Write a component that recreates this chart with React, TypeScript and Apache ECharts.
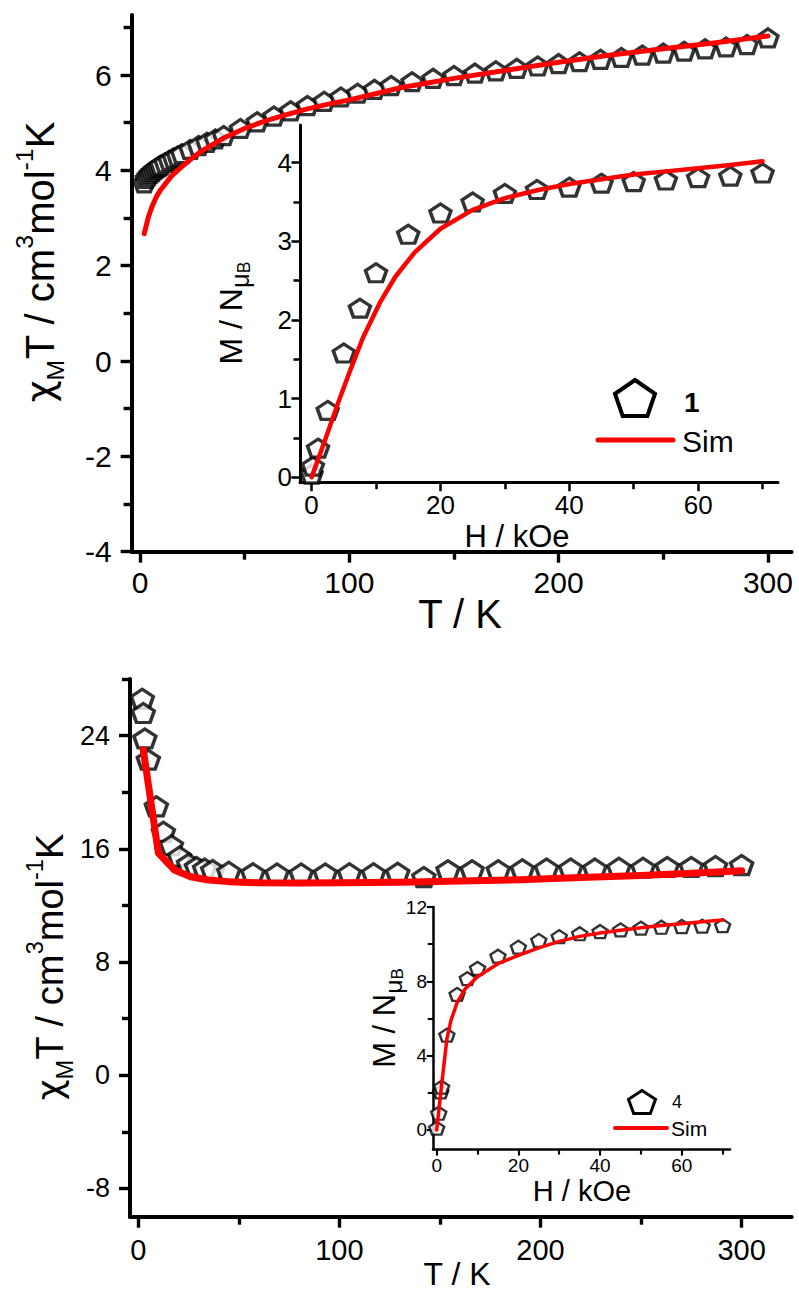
import React, { useEffect, useRef } from "react";
import * as echarts from "echarts";

const W = 799;
const H = 1292;
const FONT = "'Liberation Sans', Arial, Helvetica, sans-serif";
const GREEK = "'DejaVu Sans', 'Liberation Sans', sans-serif";

// ---------------- Top panel (compound 1): chi_M T vs T ----------------
const topT = [2, 3, 4, 5, 6, 7, 8, 9, 10, 12, 14, 16, 18, 20, 24, 28, 32, 36, 40, 48, 56, 64, 72, 80, 88, 96, 104, 112, 120, 130, 140, 150, 160, 170, 180, 190, 200, 210, 220, 230, 240, 250, 260, 270, 280, 290, 300];
const topChiT = [3.74, 3.83, 3.89, 3.94, 3.98, 4.02, 4.05, 4.08, 4.11, 4.16, 4.21, 4.26, 4.3, 4.35, 4.44, 4.52, 4.59, 4.66, 4.73, 4.88, 5.02, 5.14, 5.25, 5.36, 5.45, 5.54, 5.62, 5.7, 5.78, 5.86, 5.93, 5.99, 6.04, 6.09, 6.14, 6.19, 6.24, 6.28, 6.33, 6.37, 6.42, 6.46, 6.5, 6.55, 6.59, 6.64, 6.78];
const topSimT = [2, 4, 6, 8, 10, 15, 20, 25, 30, 40, 50, 60, 70, 80, 90, 100, 125, 150, 175, 200, 225, 250, 275, 300];
const topSimChiT = [2.67, 3.02, 3.27, 3.46, 3.6, 3.88, 4.08, 4.26, 4.42, 4.68, 4.88, 5.04, 5.17, 5.29, 5.39, 5.48, 5.74, 5.93, 6.1, 6.27, 6.42, 6.55, 6.68, 6.82];

// Top inset: M vs H
const topH = [0, 0.2, 1, 2.5, 5, 7.5, 10, 15, 20, 25, 30, 35, 40, 45, 50, 55, 60, 65, 70];
const topM = [0.04, 0.14, 0.37, 0.85, 1.58, 2.15, 2.6, 3.09, 3.36, 3.5, 3.61, 3.66, 3.69, 3.74, 3.76, 3.78, 3.81, 3.83, 3.87];
const topSimH = [0, 2, 4, 6, 8, 10.6, 13, 16, 20, 25, 30, 35, 40, 45, 50, 55, 60, 65, 70];
const topSimM = [0, 0.45, 0.92, 1.36, 1.78, 2.22, 2.55, 2.86, 3.16, 3.4, 3.55, 3.65, 3.73, 3.79, 3.85, 3.89, 3.93, 3.97, 4.02];

// ---------------- Bottom panel (compound 4) ----------------
const botT = [2, 2.5, 3.3, 5, 9, 12.5, 16.5, 20.5, 25, 29, 33, 37, 45, 57, 69, 81, 93, 105, 117, 129, 142, 154, 166, 179, 191, 203, 215, 227, 239, 251, 263, 275, 287, 300];
const botChiT = [26.6, 25.6, 23.8, 22.3, 19.0, 17.2, 16.25, 15.45, 14.95, 14.72, 14.6, 14.5, 14.38, 14.28, 14.25, 14.25, 14.26, 14.27, 14.27, 14.3, 14.0, 14.49, 14.49, 14.49, 14.55, 14.6, 14.6, 14.6, 14.66, 14.66, 14.72, 14.72, 14.78, 14.85];
const botSimT = [2.5, 10, 18, 26, 35, 45, 60, 80, 100, 130, 160, 190, 220, 250, 275, 300];
const botSimChiT = [23.0, 15.7, 14.5, 14.02, 13.8, 13.68, 13.6, 13.58, 13.6, 13.64, 13.72, 13.82, 13.98, 14.12, 14.28, 14.45];

const botH = [0, 0.5, 1, 1.2, 2.5, 5, 7.5, 10, 15, 20, 25, 30, 35, 40, 45, 50, 55, 60, 65, 70];
const botM = [0.1, 0.9, 2.05, 2.3, 5.1, 7.3, 8.15, 8.7, 9.35, 9.84, 10.2, 10.4, 10.56, 10.68, 10.77, 10.86, 10.91, 10.95, 10.97, 11.0];
const botSimH = [0, 1, 2.5, 3.5, 5, 7, 10, 15, 20, 25, 30, 35, 40, 45, 50, 55, 60, 65, 70];
const botSimM = [0, 2.0, 4.9, 5.9, 6.85, 7.6, 8.25, 8.95, 9.4, 9.8, 10.15, 10.42, 10.6, 10.75, 10.88, 11.0, 11.1, 11.2, 11.3];

// ---------------- Tick values ----------------
const topXMajor = [0, 100, 200, 300];
const topXMinor = [50, 150, 250];
const topYMajor = [-4, -2, 0, 2, 4, 6];
const topYMinor = [-3, -1, 1, 3, 5, 7];
const topInXMajor = [0, 20, 40, 60];
const topInXMinor = [10, 30, 50, 70];
const topInYMajor = [0, 1, 2, 3, 4];
const topInYMinor = [0.5, 1.5, 2.5, 3.5];
const botXMajor = [0, 100, 200, 300];
const botXMinor = [50, 150, 250];
const botYMajor = [-8, 0, 8, 16, 24];
const botYMinor = [-4, 4, 12, 20, 28];
const botInXMajor = [0, 20, 40, 60];
const botInXMinor = [10, 30, 50, 70];
const botInYMajor = [0, 4, 8, 12];
const botInYMinor = [2, 6, 10];

const PENTA = "path://M50,0 L97.55,34.55 L79.39,90.45 L20.61,90.45 L2.45,34.55 Z";

type AxStyle = { line: number; maj: number; min: number; font: number; margin: number };

function axes(kind: "x" | "y", gridIndex: number, min: number, max: number, major: number[], minor: number[], s: AxStyle) {
  const position = kind === "x" ? "bottom" : "left";
  const base = { type: "value", gridIndex, min, max, position, offset: 0, splitLine: { show: false }, minorTick: { show: false } };
  return [
    {
      ...base,
      axisLine: { show: true, onZero: false, lineStyle: { color: "#000", width: s.line } },
      axisTick: { show: true, inside: false, length: s.maj + s.line / 2, customValues: major, lineStyle: { color: "#000", width: s.line * 0.85 } },
      axisLabel: { show: true, customValues: major, margin: s.margin, fontSize: s.font, fontFamily: FONT, color: "#000" },
    },
    {
      ...base,
      axisLine: { show: false, onZero: false },
      axisTick: { show: true, inside: false, length: s.min + s.line / 2, customValues: minor, lineStyle: { color: "#000", width: s.line * 0.85 } },
      axisLabel: { show: false },
    },
  ];
}

function pair(xs: number[], ys: number[]) {
  return xs.map((x, i) => [x, ys[i]]);
}

function pentagonPoints(cx: number, cy: number, w: number, h: number) {
  const raw = [[50, 0], [97.55, 34.55], [79.39, 90.45], [20.61, 90.45], [2.45, 34.55]];
  return raw.map(([px, py]) => [cx + ((px - 50) / 95.1) * w, cy + ((py - 45.2) / 90.45) * h]);
}

function richStyles(F: number) {
  return {
    n: { fontSize: F, fontFamily: FONT, fill: "#000", lineHeight: F * 1.4 },
    chi: { fontSize: F * 0.95, fontFamily: GREEK, fill: "#000", lineHeight: F * 1.4 },
    sub: { fontSize: F * 0.62, fontFamily: FONT, fill: "#000", lineHeight: F * 0.8, verticalAlign: "bottom" },
    sup: { fontSize: F * 0.62, fontFamily: FONT, fill: "#000", lineHeight: F * 0.8, verticalAlign: "top" },
    mu: { fontSize: F * 0.8, fontFamily: FONT, fill: "#000", lineHeight: F * 1.25, verticalAlign: "bottom" },
    b: { fontSize: F * 0.55, fontFamily: FONT, fill: "#000", lineHeight: F * 0.8, verticalAlign: "bottom" },
  };
}

const CHI_TITLE = "{chi|χ}{sub|M}{n|T / cm}{sup|3}{n|mol}{sup|-1}{n|K}";
const M_TITLE = "{n|M / N}{mu|μ}{b|B}";

function rotText(x: number, y: number, text: string, F: number) {
  return {
    type: "text",
    x,
    y,
    rotation: Math.PI / 2,
    style: { text, rich: richStyles(F), fontSize: F, fontFamily: FONT, fill: "#000", align: "center", verticalAlign: "middle" },
  };
}

function plainText(x: number, y: number, text: string, F: number, align = "center", weight = "normal") {
  return {
    type: "text",
    x,
    y,
    style: { text, fontSize: F, fontFamily: FONT, fontWeight: weight, fill: "#000", align, verticalAlign: "middle" },
  };
}

function buildOption() {
  const mainTop: AxStyle = { line: 4, maj: 9, min: 6, font: 30, margin: 16 };
  const mainTopY: AxStyle = { line: 4, maj: 9, min: 6, font: 30, margin: 20 };
  const inTopX: AxStyle = { line: 3, maj: 7, min: 5, font: 26, margin: 9 };
  const inTopY: AxStyle = { line: 3, maj: 7, min: 5, font: 26, margin: 8 };
  const mainBotX: AxStyle = { line: 4, maj: 9, min: 6, font: 29, margin: 19 };
  const mainBotY: AxStyle = { line: 4, maj: 9, min: 6, font: 27, margin: 20 };
  const inBotX: AxStyle = { line: 2.5, maj: 5, min: 4, font: 19, margin: 7 };
  const inBotY: AxStyle = { line: 2.5, maj: 5, min: 4, font: 19, margin: 6 };

  const xAxis = [
    ...axes("x", 0, -4, 311.3, topXMajor, topXMinor, mainTop),
    ...axes("x", 1, -1.8, 72.4, topInXMajor, topInXMinor, inTopX),
    ...axes("x", 2, -4.1, 324.9, botXMajor, botXMinor, mainBotX),
    ...axes("x", 3, -0.9, 71.8, botInXMajor, botInXMinor, inBotX),
  ];
  const yAxis = [
    ...axes("y", 0, -4, 7.26, topYMajor, topYMinor, mainTopY),
    ...axes("y", 1, -0.07, 4.48, topInYMajor, topInYMinor, inTopY),
    ...axes("y", 2, -10, 28, botYMajor, botYMinor, mainBotY),
    ...axes("y", 3, -1.04, 12, botInYMajor, botInYMinor, inBotY),
  ];

  const scatter = (data: number[][], ax: number, size: number[], bw: number) => ({
    type: "scatter",
    xAxisIndex: ax,
    yAxisIndex: ax,
    data,
    symbol: PENTA,
    symbolSize: size,
    itemStyle: { color: "#fff", borderColor: "#000", borderWidth: bw },
    z: 3,
    silent: true,
  });
  const line = (data: number[][], ax: number, w: number) => ({
    type: "line",
    xAxisIndex: ax,
    yAxisIndex: ax,
    data,
    showSymbol: false,
    symbol: "none",
    lineStyle: { color: "#ff0000", width: w, cap: "round", join: "round" },
    z: 5,
    silent: true,
  });

  const legTop = pentagonPoints(635, 398, 40, 36);
  const legBot = pentagonPoints(642, 1102, 27, 23);

  return {
    animation: false,
    backgroundColor: "#fff",
    grid: [
      { left: 131.6, top: 15, width: 660, height: 536.7 },
      { left: 300, top: 125, width: 478, height: 357.7 },
      { left: 130, top: 679, width: 661.7, height: 537.7 },
      { left: 433, top: 907, width: 297, height: 242.3 },
    ],
    xAxis,
    yAxis,
    series: [
      scatter(pair(topT, topChiT), 0, [20, 18], 3.4),
      line(pair(topSimT, topSimChiT), 0, 5),
      scatter(pair(topH, topM), 2, [21, 18], 3.4),
      line(pair(topSimH, topSimM), 2, 4.5),
      scatter(pair(botT, botChiT), 4, [22, 19], 3.4),
      line(pair(botSimT, botSimChiT), 4, 7),
      scatter(pair(botH, botM), 6, [15, 13], 2.4),
      line(pair(botSimH, botSimM), 6, 3.5),
    ],
    graphic: [
      // axis titles
      plainText(460, 614, "T / K", 40),
      rotText(40, 262, CHI_TITLE, 40),
      plainText(517, 536, "H / kOe", 31),
      rotText(231, 313, M_TITLE, 32),
      plainText(457, 1274, "T / K", 32),
      rotText(50, 967, CHI_TITLE, 38),
      plainText(582, 1191, "H / kOe", 29),
      rotText(384, 1018, M_TITLE, 31),
      // legends
      { type: "polygon", shape: { points: legTop }, style: { fill: "#fff", stroke: "#000", lineWidth: 4 } },
      plainText(684, 402, "1", 28, "left", "bold"),
      { type: "line", shape: { x1: 598, y1: 440, x2: 673, y2: 440 }, style: { stroke: "#ff0000", lineWidth: 5, lineCap: "round" } },
      plainText(682, 441, "Sim", 30, "left"),
      { type: "polygon", shape: { points: legBot }, style: { fill: "#fff", stroke: "#000", lineWidth: 3 } },
      plainText(672, 1102, "4", 18, "left"),
      { type: "line", shape: { x1: 615, y1: 1128, x2: 667, y2: 1128 }, style: { stroke: "#ff0000", lineWidth: 4, lineCap: "round" } },
      plainText(671, 1128, "Sim", 21, "left"),
    ],
  };
}

export default function App() {
  const ref = useRef<HTMLDivElement>(null);
  useEffect(() => {
    if (!ref.current) return;
    const chart = echarts.init(ref.current, undefined, { renderer: "svg", width: W, height: H });
    chart.setOption(buildOption() as any);
    return () => chart.dispose();
  }, []);
  return <div ref={ref} style={{ position: "absolute", left: 0, top: 0, width: W, height: H, background: "#fff" }} />;
}
